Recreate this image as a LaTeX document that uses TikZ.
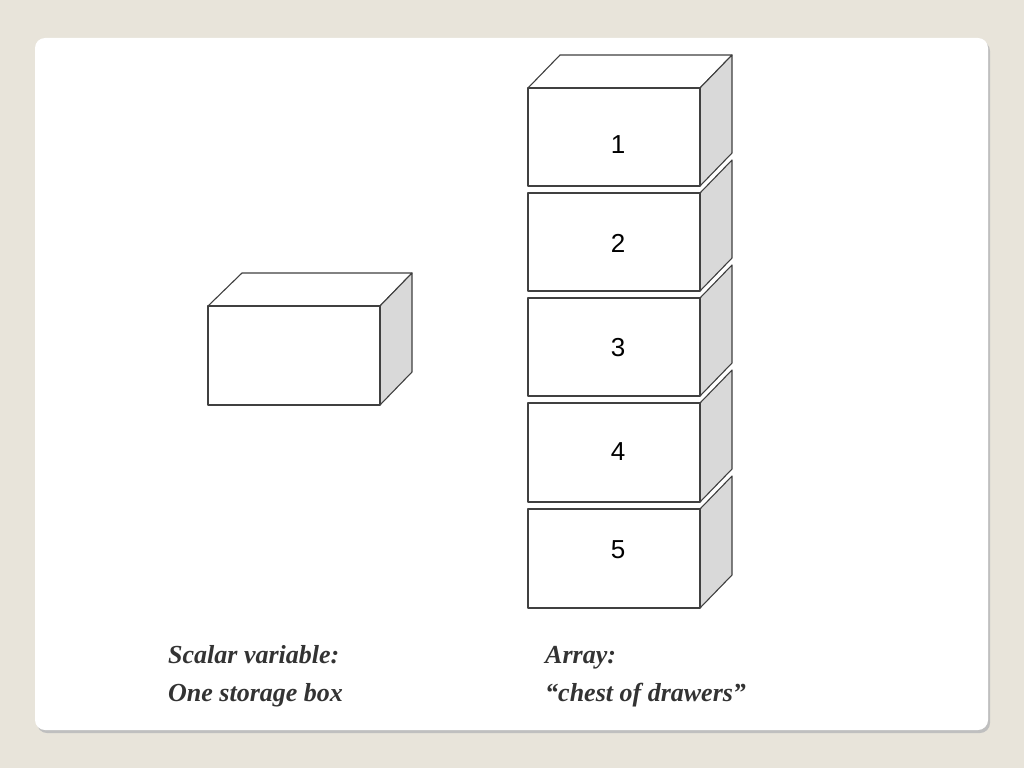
\documentclass[tikz,border=0pt]{standalone}
\usepackage{fontspec}
\setmainfont{Liberation Serif}
\newfontfamily\numfont{Liberation Sans}
\begin{document}
\begin{tikzpicture}[x=1pt,y=-1pt,
  face/.style={draw=black!75,line width=1.1pt,fill=white,line join=round},
  sideface/.style={draw=black!75,line width=1.1pt,fill=black!15,line join=round},
  num/.style={font=\numfont\fontsize{26}{26}\selectfont,text=black},
  captext/.style={font=\bfseries\itshape\fontsize{26}{30}\selectfont,text=black!80,anchor=base west,inner sep=0pt}]
\useasboundingbox (0,0) rectangle (1024,768);
\fill[fill={rgb,255:red,232;green,228;blue,218}] (0,0) rectangle (1024,768);
\fill[black!25,rounded corners=10pt] (37,41) rectangle (990,733);
\fill[white,rounded corners=10pt] (35,38) rectangle (988,730);
% scalar box
\draw[face] (208,306) -- (242,273) -- (412,273) -- (380,306) -- cycle;
\draw[sideface] (380,306) -- (412,273) -- (412,372) -- (380,405) -- cycle;
\draw[face] (208,306) rectangle (380,405);
% stack
\draw[face] (528,88) -- (560,55) -- (732,55) -- (700,88) -- cycle;
\foreach \t/\b/\c/\n in {88/186/145/1,193/291/243/2,298/396/348/3,403/502/452/4,509/608/550/5}{
  \draw[sideface] (700,\t) -- (732,\t-33) -- (732,\b-33) -- (700,\b) -- cycle;
  \draw[face] (528,\t) rectangle (700,\b);
  \node[num] (d\n) at (618,\c) {\n};
}
\node[captext] (s1) at (168,663) {Scalar variable:};
\node[captext] (s2) at (168,701) {One storage box};
\node[captext] (a1) at (545,663) {Array:};
\node[captext] (a2) at (545,701) {“chest of drawers”};
\end{tikzpicture}
\end{document}
